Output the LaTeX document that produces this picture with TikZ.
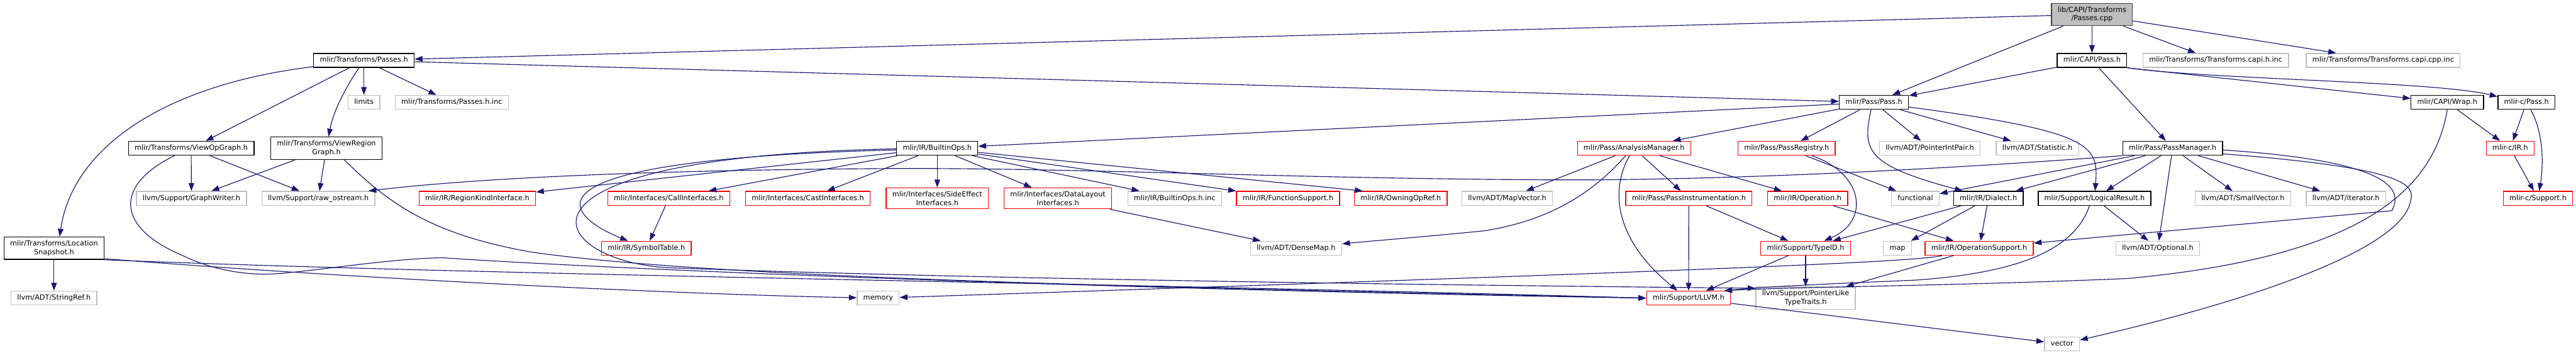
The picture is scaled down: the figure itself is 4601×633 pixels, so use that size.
\documentclass[tikz,border=0pt]{standalone}
\usepackage{fontspec}
\setmainfont{DejaVu Sans}
\usepackage{xcolor}
\usepackage{tikz}
\usetikzlibrary{arrows.meta}
\definecolor{edgeblue}{HTML}{191970}
\definecolor{extgray}{HTML}{BFBFBF}
\definecolor{truncred}{HTML}{FF0000}

\begin{document}
\begin{tikzpicture}[x=1pt,y=-1pt,
    hdr/.style={draw,line width=1.5pt,font=\fontsize{12.7}{15.5}\selectfont,inner xsep=11pt,inner ysep=6.5pt,text height=9.3pt,text depth=2.7pt},
    twoline/.style={align=center,text height={},text depth={},inner ysep=6pt},
    docbox/.style={hdr,draw=black},
    sysbox/.style={hdr,draw=extgray},
    redbox/.style={hdr,draw=truncred},
    rootbox/.style={hdr,twoline,draw=black!75,fill=extgray},
    incl/.style={draw=edgeblue,line width=1.3pt,-{Triangle[length=14pt,width=10pt]}}]
  \useasboundingbox (0,0) rectangle (4601,633);

  \node[rootbox] (root) at (3736.5,25.8) {lib/CAPI/Transforms\\/Passes.cpp};
  \node[docbox] (tpasses) at (650,107.8) {mlir/Transforms/Passes.h};
  \node[docbox] (capipass) at (3736.5,107.8) {mlir/CAPI/Pass.h};
  \node[sysbox] (capihinc) at (3957.5,107.8) {mlir/Transforms/Transforms.capi.h.inc};
  \node[sysbox] (capicppinc) at (4256.5,107.8) {mlir/Transforms/Transforms.capi.cpp.inc};
  \node[sysbox] (limits) at (650,182.7) {limits};
  \node[sysbox] (passesinc) at (807,182.7) {mlir/Transforms/Passes.h.inc};
  \node[docbox] (pass) at (3347,182.7) {mlir/Pass/Pass.h};
  \node[docbox] (wrap) at (4371,182.7) {mlir/CAPI/Wrap.h};
  \node[docbox] (cpass) at (4512.5,182.7) {mlir-c/Pass.h};
  \node[docbox] (viewop) at (341.5,264.6) {mlir/Transforms/ViewOpGraph.h};
  \node[docbox,twoline] (viewregion) at (583,264.5) {mlir/Transforms/ViewRegion\\Graph.h};
  \node[docbox] (builtinops) at (1674,264.6) {mlir/IR/BuiltinOps.h};
  \node[redbox] (analysis) at (2918.5,264.6) {mlir/Pass/AnalysisManager.h};
  \node[redbox] (registry) at (3191,264.6) {mlir/Pass/PassRegistry.h};
  \node[sysbox] (ptrintpair) at (3447,264.6) {llvm/ADT/PointerIntPair.h};
  \node[sysbox] (statistic) at (3639,264.6) {llvm/ADT/Statistic.h};
  \node[docbox] (passmanager) at (3880.5,264.6) {mlir/Pass/PassManager.h};
  \node[redbox] (cir) at (4483.5,264.6) {mlir-c/IR.h};
  \node[sysbox] (graphwriter) at (342,354) {llvm/Support/GraphWriter.h};
  \node[sysbox] (rawostream) at (568.5,354) {llvm/Support/raw\_ostream.h};
  \node[redbox] (regionkind) at (852.5,354) {mlir/IR/RegionKindInterface.h};
  \node[redbox] (callif) at (1194.5,354) {mlir/Interfaces/CallInterfaces.h};
  \node[redbox] (castif) at (1443,354) {mlir/Interfaces/CastInterfaces.h};
  \node[redbox,twoline] (sideeffect) at (1674,354) {mlir/Interfaces/SideEffect\\Interfaces.h};
  \node[redbox,twoline] (datalayout) at (1889.5,354) {mlir/Interfaces/DataLayout\\Interfaces.h};
  \node[sysbox] (builtininc) at (2098,354) {mlir/IR/BuiltinOps.h.inc};
  \node[redbox] (funcsupport) at (2300.5,354) {mlir/IR/FunctionSupport.h};
  \node[redbox] (owningop) at (2502,354) {mlir/IR/OwningOpRef.h};
  \node[sysbox] (mapvector) at (2692,354) {llvm/ADT/MapVector.h};
  \node[redbox] (instrument) at (3016.5,354) {mlir/Pass/PassInstrumentation.h};
  \node[redbox] (operation) at (3228.5,354) {mlir/IR/Operation.h};
  \node[sysbox] (functional) at (3421,354) {functional};
  \node[docbox] (dialect) at (3551.5,354) {mlir/IR/Dialect.h};
  \node[docbox] (logical) at (3741,354) {mlir/Support/LogicalResult.h};
  \node[sysbox] (smallvec) at (4006,354) {llvm/ADT/SmallVector.h};
  \node[sysbox] (iterator) at (4190,354) {llvm/ADT/iterator.h};
  \node[redbox] (csupport) at (4533,354) {mlir-c/Support.h};
  \node[docbox,twoline] (locsnap) at (96.5,443) {mlir/Transforms/Location\\Snapshot.h};
  \node[redbox] (symtable) at (1154.5,443) {mlir/IR/SymbolTable.h};
  \node[sysbox] (densemap) at (2315,443) {llvm/ADT/DenseMap.h};
  \node[redbox] (typeid) at (3225,443) {mlir/Support/TypeID.h};
  \node[sysbox] (map) at (3389,443) {map};
  \node[redbox] (opsupport) at (3535,443) {mlir/IR/OperationSupport.h};
  \node[sysbox] (optional) at (3854,443) {llvm/ADT/Optional.h};
  \node[sysbox] (stringref) at (96.5,532) {llvm/ADT/StringRef.h};
  \node[sysbox] (memory) at (1568.5,532) {memory};
  \node[redbox] (llvm) at (3016,532) {mlir/Support/LLVM.h};
  \node[sysbox,twoline] (ptrlike) at (3225,532) {llvm/Support/PointerLike\\TypeTraits.h};
  \node[sysbox] (vector) at (3683,614) {vector};

  \draw[incl] (root) -- (tpasses);
  \draw[incl] (root) -- (pass);
  \draw[incl] (root) -- (capipass);
  \draw[incl] (root) -- (capihinc);
  \draw[incl] (root) -- (capicppinc);
  \draw[incl] (tpasses) -- (pass);
  \draw[incl] ([yshift=2pt]tpasses.south west) .. controls (300,150) and (130,260) .. ([xshift=10pt]locsnap.north);
  \draw[incl] (tpasses) -- (viewop);
  \draw[incl] (tpasses) .. controls (615,160) and (595,200) .. (viewregion);
  \draw[incl] (tpasses) -- (limits);
  \draw[incl] (tpasses) -- (passesinc);
  \draw[incl] (viewop) -- (graphwriter);
  \draw[incl] (viewop) -- (rawostream);
  \draw[incl] ([xshift=-30pt]viewop.south) .. controls (205,330) and (205,405) .. (326,456) .. controls (380,482) and (440,492) .. (494,488.5) .. controls (560,484) and (700,461) .. (791,460) .. controls (1050,478) and (1900,515) .. (llvm.west);
  \draw[incl] (viewregion) -- (graphwriter);
  \draw[incl] (viewregion) -- (rawostream);
  \draw[incl] ([xshift=32pt]viewregion.south) .. controls (700,370) and (780,420) .. (950,450) .. controls (1300,500) and (2200,515) .. (llvm.west);
  \draw[incl] (locsnap) -- (stringref);
  \draw[incl] ([yshift=2pt]locsnap.south east) .. controls (600,495) and (1200,525) .. (memory);
  \draw[incl] (locsnap.south east) .. controls (900,492) and (2000,505) .. (llvm.west);
  \draw[incl] (capipass) -- (pass);
  \draw[incl] (capipass) -- (passmanager);
  \draw[incl] (capipass.south east) -- (wrap);
  \draw[incl] (capipass.south east) .. controls (3950,142) and (4350,145) .. ([yshift=-3pt]cpass.north west);
  \draw[incl] (pass) -- (builtinops);
  \draw[incl] (pass) -- (analysis);
  \draw[incl] (pass) -- (registry);
  \draw[incl] (pass) -- (ptrintpair);
  \draw[incl] (pass) -- (statistic);
  \draw[incl] ([xshift=-5pt]pass.south) .. controls (3325,270) and (3335,295) .. ([xshift=-46pt]dialect.north);
  \draw[incl] (pass) .. controls (3740,235) and (3748,260) .. (logical);
  \draw[incl] (passmanager.south west) .. controls (3500,300) and (3100,322) .. (2780,321) .. controls (2300,319) and (1900,298) .. (1560,301) .. controls (1150,304) and (850,318) .. ([xshift=-12pt]rawostream.north east);
  \draw[incl] (passmanager) -- (functional);
  \draw[incl] (passmanager) -- (dialect);
  \draw[incl] (passmanager) -- (logical);
  \draw[incl] (passmanager) -- (optional);
  \draw[incl] (passmanager) -- (smallvec);
  \draw[incl] (passmanager) -- (iterator);
  \draw[incl] ([yshift=-3pt]passmanager.east) .. controls (4230,285) and (4300,325) .. (4272,376) -- ([yshift=-4pt]opsupport.north east);
  \draw[incl] ([yshift=-10pt]passmanager.east) .. controls (4300,300) and (4315,330) .. (4305,360) .. controls (4290,440) and (4050,530) .. (vector);
  \draw[incl] (wrap) -- (cir);
  \draw[incl] (wrap.south) .. controls (4345,350) and (4200,460) .. (3800,497) .. controls (3500,510) and (3200,512) .. ([xshift=-12pt]llvm.north east);
  \draw[incl] (cpass) -- (cir);
  \draw[incl] (cpass) .. controls (4545,240) and (4542,300) .. (csupport);
  \draw[incl] (cir) -- (csupport);
  \draw[incl] (builtinops) -- (regionkind);
  \draw[incl] ([yshift=-3pt]builtinops.west) .. controls (900,285) and (1010,385) .. (symtable);
  \draw[incl] ([yshift=-1pt]builtinops.west) .. controls (850,280) and (980,470) .. (1200,478) .. controls (1800,500) and (2700,510) .. ([yshift=-3pt]ptrlike.north west);
  \draw[incl] (builtinops) -- (callif);
  \draw[incl] (builtinops) -- (castif);
  \draw[incl] (builtinops) -- (sideeffect);
  \draw[incl] (builtinops) -- (datalayout);
  \draw[incl] (builtinops) -- (builtininc);
  \draw[incl] (builtinops) -- (funcsupport);
  \draw[incl] (builtinops) -- ([xshift=-68pt]owningop.north);
  \draw[incl] (callif) -- (symtable);
  \draw[incl] (datalayout) -- (densemap);
  \draw[incl] (analysis) -- (mapvector);
  \draw[incl] ([xshift=-15pt]analysis.south) .. controls (2840,350) and (2760,395) .. (2650,412) .. controls (2550,422) and (2450,430) .. (densemap);
  \draw[incl] ([xshift=-8pt]analysis.south) .. controls (2880,330) and (2875,420) .. ([xshift=-20pt]llvm.north);
  \draw[incl] (analysis) -- (instrument);
  \draw[incl] (analysis) -- (operation);
  \draw[incl] (instrument) -- (llvm);
  \draw[incl] (instrument) -- (typeid);
  \draw[incl] (registry) -- (functional);
  \draw[incl] ([xshift=45pt]registry.south) .. controls (3330,310) and (3340,395) .. ([xshift=33pt]typeid.north);
  \draw[incl] (operation) -- (opsupport);
  \draw[incl] (dialect) -- (typeid);
  \draw[incl] (dialect) -- (map);
  \draw[incl] (dialect) -- (opsupport);
  \draw[incl] ([xshift=-9pt]logical.south) .. controls (3710,430) and (3640,485) .. (3420,500) .. controls (3250,507) and (3150,512) .. ([xshift=-12pt]llvm.north east);
  \draw[incl] (logical) -- (optional);
  \draw[incl] (typeid) -- (llvm);
  \draw[incl] (typeid) -- (ptrlike);
  \draw[incl] (opsupport) -- (ptrlike);
  \draw[incl] (opsupport) .. controls (3420,466) and (3200,478) .. (memory);
  \draw[incl] (llvm) -- (vector);
\end{tikzpicture}
\end{document}
